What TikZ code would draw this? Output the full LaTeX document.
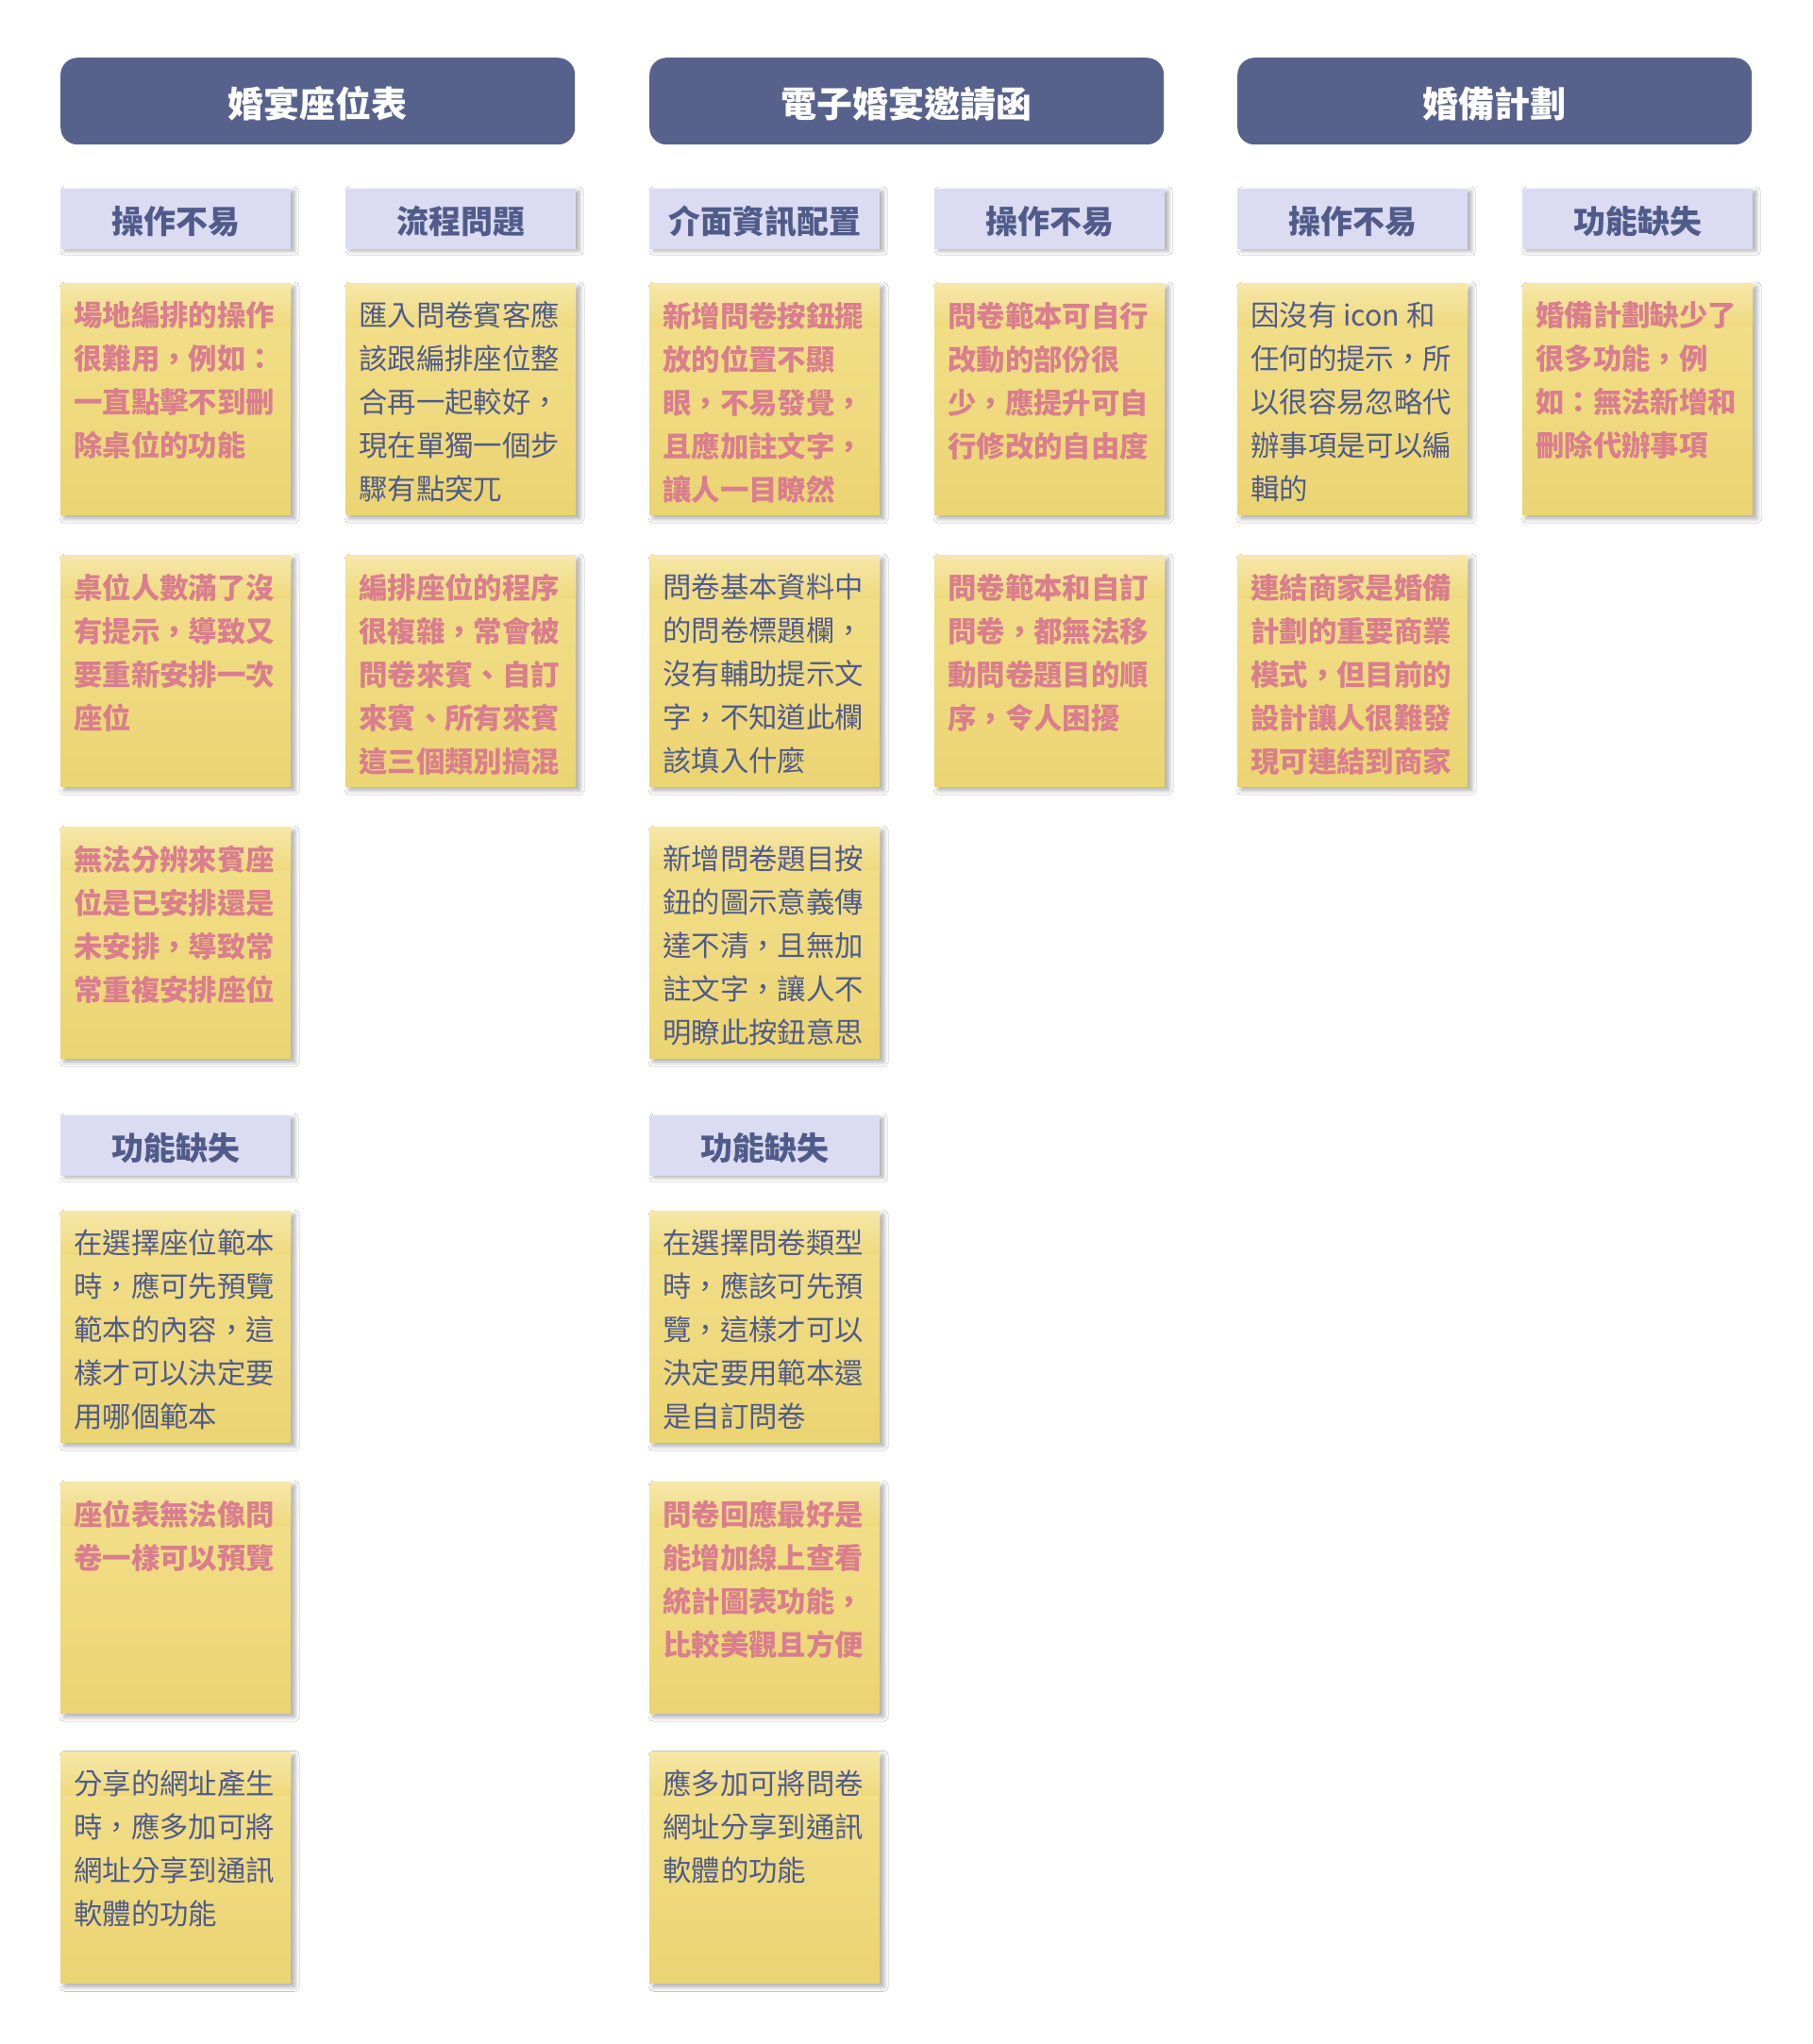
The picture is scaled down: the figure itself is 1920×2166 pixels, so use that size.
\documentclass[tikz,border=0pt]{standalone}
\usepackage{fontspec}
\setmainfont{Noto Sans CJK TC}
\usetikzlibrary{shadows.blur}
\definecolor{hdr}{HTML}{57628C}
\definecolor{subfill}{HTML}{DBDBF1}
\definecolor{subtext}{HTML}{505B8A}
\definecolor{stktop}{HTML}{F3E08C}
\definecolor{stkbot}{HTML}{EBD472}
\definecolor{stkband}{HTML}{EBD068}
\definecolor{pinktxt}{HTML}{D97E8E}
\definecolor{bluetxt}{HTML}{4F5B8C}
\tikzset{
 header/.style={draw=none, fill=hdr, rounded corners=18pt, minimum width=545pt, minimum height=92pt, anchor=north west, inner sep=0pt},
 headertext/.style={text=white, font=\fontsize{38}{40}\selectfont\bfseries, inner sep=0pt},
 subhdr/.style={fill=subfill, minimum width=244pt, minimum height=64pt, anchor=north west, inner sep=0pt, blur shadow={shadow xshift=4pt, shadow yshift=-2pt, shadow blur radius=4pt, shadow opacity=30}},
 subtextstyle/.style={text=subtext, font=\fontsize{34}{36}\selectfont\bfseries, inner sep=0pt},
 sticky/.style={top color=stktop, bottom color=stkbot, minimum width=244pt, minimum height=245pt, anchor=north west, inner sep=0pt, blur shadow={shadow xshift=4pt, shadow yshift=-4pt, shadow blur radius=5pt, shadow blur steps=8, shadow opacity=35}},
 notetext/.style={anchor=north west, inner sep=0pt, align=left},
 pinknote/.style={notetext, text=pinktxt, font=\fontsize{30.4}{46}\selectfont\bfseries},
 bluenote/.style={notetext, text=bluetxt, font=\fontsize{30.4}{46}\selectfont},
}
\newcommand\stk[5]{%
 \node[sticky] (#1) at (#2,#3) {};
 \shade[top color=white, bottom color=stkband, opacity=0.25] (#1.north west) rectangle ([yshift=-46pt]#1.north east);
 \node[#4] (#1t) at ([xshift=14pt, yshift=-19.5pt]#1.north west) {#5};
}
\newcommand\hdrbox[4]{%
 \node[header] (#1) at (#2,#3) {};
 \node[headertext] (#1t) at ([yshift=-3pt]#1.center) {#4};
}
\newcommand\subbox[4]{%
 \node[subhdr] (#1) at (#2,#3) {};
 \node[subtextstyle] (#1t) at ([yshift=-2.5pt]#1.center) {#4};
}
\begin{document}
\begin{tikzpicture}[x=1pt, y=-1pt]
\useasboundingbox (0,0) rectangle (1920,2166);
\fill[white] (0,0) rectangle (1920,2166);
% headers
\hdrbox{h1}{64}{61}{婚宴座位表}
\hdrbox{h2}{688}{61}{電子婚宴邀請函}
\hdrbox{h3}{1311}{61}{婚備計劃}
% subheaders
\subbox{s1}{64}{200}{操作不易}
\subbox{s2}{366}{200}{流程問題}
\subbox{s3}{688}{200}{介面資訊配置}
\subbox{s4}{990}{200}{操作不易}
\subbox{s5}{1311}{200}{操作不易}
\subbox{s6}{1613}{200}{功能缺失}
\subbox{s7}{64}{1182}{功能缺失}
\subbox{s8}{688}{1182}{功能缺失}
% column 1
\stk{a1}{64}{300}{pinknote}{場地編排的操作\\很難用，例如：\\一直點擊不到刪\\除桌位的功能}
\stk{a2}{64}{588}{pinknote}{桌位人數滿了沒\\有提示，導致又\\要重新安排一次\\座位}
\stk{a3}{64}{876}{pinknote}{無法分辨來賓座\\位是已安排還是\\未安排，導致常\\常重複安排座位}
\stk{a4}{64}{1283}{bluenote}{在選擇座位範本\\時，應可先預覽\\範本的內容，這\\樣才可以決定要\\用哪個範本}
\stk{a5}{64}{1570}{pinknote}{座位表無法像問\\卷一樣可以預覽}
\stk{a6}{64}{1856}{bluenote}{分享的網址產生\\時，應多加可將\\網址分享到通訊\\軟體的功能}
% column 2
\stk{b1}{366}{300}{bluenote}{匯入問卷賓客應\\該跟編排座位整\\合再一起較好，\\現在單獨一個步\\驟有點突兀}
\stk{b2}{366}{588}{pinknote}{編排座位的程序\\很複雜，常會被\\問卷來賓、自訂\\來賓、所有來賓\\這三個類別搞混}
% column 3
\stk{c1}{688}{300}{pinknote}{新增問卷按鈕擺\\放的位置不顯\\眼，不易發覺，\\且應加註文字，\\讓人一目瞭然}
\stk{c2}{688}{588}{bluenote}{問卷基本資料中\\的問卷標題欄，\\沒有輔助提示文\\字，不知道此欄\\該填入什麼}
\stk{c3}{688}{876}{bluenote}{新增問卷題目按\\鈕的圖示意義傳\\達不清，且無加\\註文字，讓人不\\明瞭此按鈕意思}
\stk{c4}{688}{1283}{bluenote}{在選擇問卷類型\\時，應該可先預\\覽，這樣才可以\\決定要用範本還\\是自訂問卷}
\stk{c5}{688}{1570}{pinknote}{問卷回應最好是\\能增加線上查看\\統計圖表功能，\\比較美觀且方便}
\stk{c6}{688}{1856}{bluenote}{應多加可將問卷\\網址分享到通訊\\軟體的功能}
% column 4
\stk{d1}{990}{300}{pinknote}{問卷範本可自行\\改動的部份很\\少，應提升可自\\行修改的自由度}
\stk{d2}{990}{588}{pinknote}{問卷範本和自訂\\問卷，都無法移\\動問卷題目的順\\序，令人困擾}
% column 5
\stk{e1}{1311}{300}{bluenote}{因沒有 icon 和\\任何的提示，所\\以很容易忽略代\\辦事項是可以編\\輯的}
\stk{e2}{1311}{588}{pinknote}{連結商家是婚備\\計劃的重要商業\\模式，但目前的\\設計讓人很難發\\現可連結到商家}
% column 6
\stk{f1}{1613}{300}{pinknote}{婚備計劃缺少了\\很多功能，例\\如：無法新增和\\刪除代辦事項}
\end{tikzpicture}
\end{document}
